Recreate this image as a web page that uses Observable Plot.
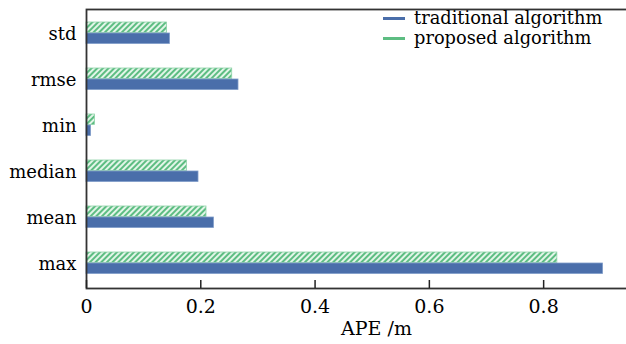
<!DOCTYPE html>
<html>
<head>
<meta charset="utf-8">
<script src="https://cdn.jsdelivr.net/npm/d3@7"></script>
<script src="https://cdn.jsdelivr.net/npm/@observablehq/plot@0.6"></script>
<style>
  html, body { margin: 0; padding: 0; background: #fff; overflow: hidden; }
  #wrap { position: relative; width: 626px; height: 344px; overflow: hidden; }
  #legend { position: absolute; left: 383px; top: 8px; font-family: "DejaVu Serif", serif; font-size: 17.8px; color: #000; line-height: 20px; }
  #legend .row { display: flex; align-items: center; white-space: nowrap; }
  #legend .sw { width: 22px; height: 3px; margin-right: 9px; }
</style>
</head>
<body>
<div id="wrap">
  <div id="chart"></div>
  <div id="legend"></div>
</div>
<script>
const metrics = ["std", "rmse", "min", "median", "mean", "max"];
const traditional = [0.146, 0.266, 0.008, 0.196, 0.223, 0.904];
const proposed = [0.141, 0.255, 0.015, 0.176, 0.210, 0.824];
const xTicks = [0, 0.2, 0.4, 0.6, 0.8];
const seriesNames = ["traditional algorithm", "proposed algorithm"];
const seriesColors = ["#4a6eaa", "#5dbd82"];

const tradData = metrics.map((m, i) => ({metric: m, value: traditional[i]}));
const propData = metrics.map((m, i) => ({metric: m, value: proposed[i]}));

const chart = Plot.plot({
  width: 666,
  height: 344,
  marginLeft: 86,
  marginRight: 0,
  marginTop: 9,
  marginBottom: 56,
  style: {fontFamily: "DejaVu Serif, serif", fontSize: "18px", color: "#000", maxWidth: "none", background: "#fff"},
  x: {domain: [0, 1.015]},
  y: {domain: metrics, padding: 0},
  marks: [
    Plot.barX(propData, {x: "value", y: "metric", insetTop: 11, insetBottom: 24.5, fill: "url(#hatchGreen)", stroke: "#8fd3a8", strokeWidth: 0.8}),
    Plot.barX(tradData, {x: "value", y: "metric", insetTop: 22, insetBottom: 13.5, fill: seriesColors[0], stroke: "#7f9cc9", strokeWidth: 0.8}),
    Plot.frame({stroke: "#333", strokeWidth: 1.8}),
    Plot.axisY({tickSize: 0, tickPadding: 10, fontSize: 18, label: null}),
    Plot.axisX({ticks: xTicks, tickSize: -8, text: null, label: null, strokeWidth: 1.5, stroke: "#222"}),
    Plot.axisX({ticks: xTicks, tickSize: 0, tickPadding: 11, fontSize: 19, label: "APE /m", labelAnchor: "center", labelArrow: "none", labelOffset: 46, tickFormat: d => d === 0 ? "0" : String(d)})
  ]
});

const svg = d3.select(chart.tagName.toLowerCase() === "svg" ? chart : chart.querySelector("svg"));
const defs = svg.insert("defs", ":first-child");
const pat = defs.append("pattern")
  .attr("id", "hatchGreen")
  .attr("patternUnits", "userSpaceOnUse")
  .attr("width", 4).attr("height", 4)
  .attr("patternTransform", "rotate(45)");
pat.append("rect").attr("width", 4).attr("height", 4).attr("fill", "#e2f5e8");
pat.append("rect").attr("x", 0).attr("width", 2).attr("height", 4).attr("fill", seriesColors[1]);

document.getElementById("chart").appendChild(chart);

const legend = document.getElementById("legend");
seriesNames.forEach((name, i) => {
  const row = document.createElement("div");
  row.className = "row";
  const sw = document.createElement("span");
  sw.className = "sw";
  sw.style.background = seriesColors[i];
  const t = document.createElement("span");
  t.textContent = name;
  row.appendChild(sw);
  row.appendChild(t);
  legend.appendChild(row);
});
</script>
</body>
</html>
